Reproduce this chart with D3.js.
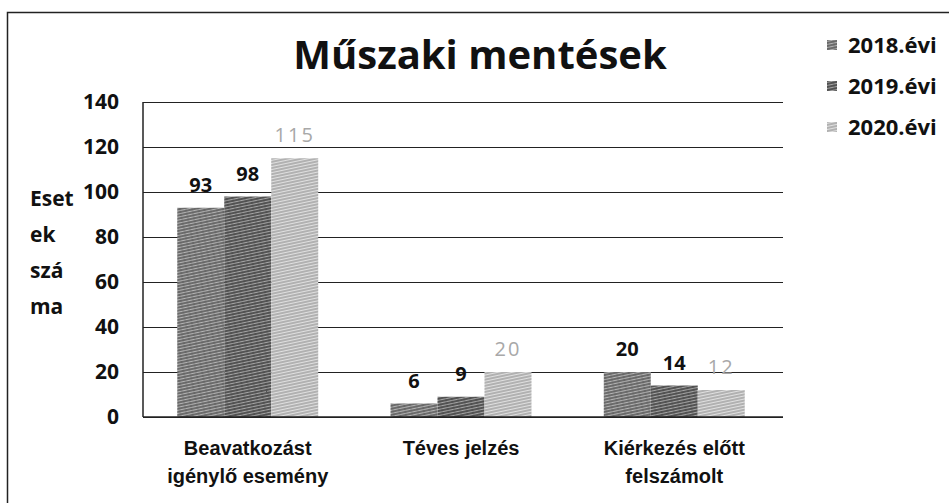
<!DOCTYPE html>
<html>
<head>
<meta charset="utf-8">
<script src="https://cdn.jsdelivr.net/npm/d3@7"></script>
<style>
  body { margin: 0; background: #fff; }
  svg { display: block; font-family: "Open Sans", "DejaVu Sans", sans-serif; }
</style>
</head>
<body>
<svg width="949" height="503"></svg>
<script>
// chart data
const categories = [["Beavatkozást", "igénylő esemény"], ["Téves jelzés"], ["Kiérkezés előtt", "felszámolt"]];
const years = ["2018.évi", "2019.évi", "2020.évi"];
const values2018 = [93, 6, 20];
const values2019 = [98, 9, 14];
const values2020 = [115, 20, 12];
const yTicks = [0, 20, 40, 60, 80, 100, 120, 140];
const yTitle = ["Eset", "ek", "szá", "ma"];

const series = [values2018, values2019, values2020];

const svg = d3.select('svg');
const plotLeft = 143, plotRight = 783, plotTop = 102, plotBottom = 417;

// patterns to imitate the scanned hatching
const defs = svg.append('defs');
const pat = [
    {id: 'p0', bg: '#b4b4b4', line: '#3c3c3c', w: 1.2, cross: true},
    {id: 'p1', bg: '#a6a6a6', line: '#303030', w: 1.4, cross: true},
    {id: 'p2', bg: '#e0e0e0', line: '#8a8a8a', w: 1.1, cross: false}
];
pat.forEach(function(p) {
    const g = defs.append('pattern')
        .attr('id', p.id)
        .attr('patternUnits', 'userSpaceOnUse')
        .attr('width', 6).attr('height', 3)
        .attr('patternTransform', 'rotate(-12)');
    g.append('rect').attr('width', 6).attr('height', 3).attr('fill', p.bg);
    g.append('line').attr('x1', 0).attr('x2', 6).attr('y1', 1).attr('y2', 1)
        .attr('stroke', p.line).attr('stroke-width', p.w);
    if (p.cross) {
        g.append('line').attr('x1', 1).attr('x2', 1).attr('y1', 0).attr('y2', 3)
            .attr('stroke', p.line).attr('stroke-width', 0.5).attr('opacity', 0.5);
    }
});

// outer frame (only left and top visible in the scan)
svg.append('path')
    .attr('d', 'M7.5,503 V12.5 H949')
    .attr('fill', 'none')
    .attr('stroke', '#222')
    .attr('stroke-width', 1.5);

const y = d3.scaleLinear().domain([0, 140]).range([plotBottom, plotTop]);
const x0 = d3.scaleBand()
    .domain(d3.range(categories.length))
    .range([plotLeft - 2, plotRight - 2])
    .paddingInner(0.339)
    .paddingOuter(0.17);
const x1 = d3.scaleBand().domain(d3.range(years.length)).range([0, x0.bandwidth()]);

// gridlines + y labels
const yAxis = svg.append('g')
    .attr('transform', 'translate(' + plotLeft + ',0)')
    .call(d3.axisLeft(y).tickValues(yTicks).tickSize(-(plotRight - plotLeft)).tickPadding(24));
yAxis.select('.domain').remove();
yAxis.selectAll('.tick line').attr('stroke', '#222').attr('stroke-width', 1.2);
yAxis.selectAll('.tick text')
    .attr('font-family', '"Open Sans", sans-serif')
    .attr('font-size', 21)
    .attr('font-weight', 700)
    .attr('fill', '#111');

// left axis line
svg.append('line')
    .attr('x1', plotLeft).attr('x2', plotLeft).attr('y1', plotTop).attr('y2', plotBottom)
    .attr('stroke', '#222').attr('stroke-width', 1.5);

// bars
const groups = svg.append('g').selectAll('g')
    .data(categories)
    .join('g')
    .attr('transform', (d, i) => 'translate(' + x0(i) + ',0)');

groups.each(function(d, i) {
    const g = d3.select(this);
    series.forEach(function(vals, s) {
        g.append('rect')
            .attr('x', x1(s))
            .attr('y', y(vals[i]))
            .attr('width', x1.bandwidth())
            .attr('height', y(0) - y(vals[i]))
            .attr('fill', 'url(#p' + s + ')');
        g.append('text')
            .attr('x', x1(s) + x1.bandwidth() / 2)
            .attr('y', y(vals[i]) - 16)
            .attr('text-anchor', 'middle')
            .attr('font-size', 20)
            .attr('font-weight', s === 2 ? 400 : 700)
            .attr('letter-spacing', s === 2 ? 2 : 0)
            .attr('fill', s === 2 ? '#a8a8a8' : '#111')
            .text(vals[i]);
    });
});

// bottom axis line
svg.append('line')
    .attr('x1', plotLeft).attr('x2', plotRight).attr('y1', plotBottom).attr('y2', plotBottom)
    .attr('stroke', '#222').attr('stroke-width', 1.5);

// category labels
const xAxis = svg.append('g')
    .attr('transform', 'translate(0,' + plotBottom + ')')
    .call(d3.axisBottom(x0).tickSize(0).tickFormat(''));
xAxis.select('.domain').remove();
xAxis.selectAll('.tick').each(function(d) {
    const t = d3.select(this).append('text')
        .attr('text-anchor', 'middle')
        .attr('font-size', 20)
        .attr('font-weight', 700)
        .attr('fill', '#111');
    categories[d].forEach(function(line, k) {
        t.append('tspan').attr('x', 0).attr('y', 38 + k * 28).text(line);
    });
});

// y axis title
svg.append('text')
    .attr('font-size', 21)
    .attr('font-weight', 700)
    .attr('fill', '#111')
    .selectAll('tspan')
    .data(yTitle)
    .join('tspan')
    .attr('x', 30)
    .attr('y', (d, i) => 206 + i * 36)
    .text(d => d);

// title
svg.append('text')
    .attr('x', 480)
    .attr('y', 69)
    .attr('text-anchor', 'middle')
    .attr('font-size', 40)
    .attr('font-weight', 700)
    .attr('fill', '#111')
    .text('Műszaki mentések');

// legend
const legend = svg.append('g').selectAll('g')
    .data(years)
    .join('g')
    .attr('transform', (d, i) => 'translate(827,' + (45 + i * 41) + ')');
legend.append('rect')
    .attr('x', 0).attr('y', -5)
    .attr('width', 10).attr('height', 10)
    .attr('fill', (d, i) => 'url(#p' + i + ')');
legend.append('text')
    .attr('x', 21)
    .attr('y', 8)
    .attr('font-size', 22)
    .attr('font-weight', 700)
    .attr('fill', '#111')
    .text(d => d);
</script>
</body>
</html>
